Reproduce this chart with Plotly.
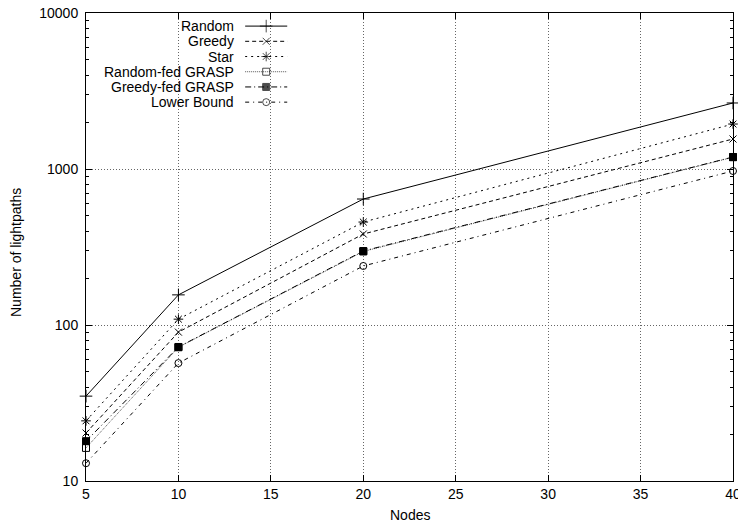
import plotly.graph_objects as go

nodes = [5, 10, 20, 40]
series_names = ["Random", "Greedy", "Star", "Random-fed GRASP", "Greedy-fed GRASP", "Lower Bound"]
random_vals = [35, 156, 642, 2650]
greedy_vals = [20.3, 90, 383, 1557]
star_vals = [24.3, 109, 457, 1942]
random_grasp_vals = [16.3, 72, 296, 1190]
greedy_grasp_vals = [18.0, 72.3, 298, 1194]
lower_bound_vals = [13.0, 57, 239, 971]
x_ticks = [5, 10, 15, 20, 25, 30, 35, 40]
y_ticks = [10, 100, 1000, 10000]
y_tick_labels = ["10", "100", "1000", "10000"]
y_minor_ticks = [m * d for d in (10, 100, 1000) for m in range(2, 10)]

values = [random_vals, greedy_vals, star_vals, random_grasp_vals, greedy_grasp_vals, lower_bound_vals]
symbols = ["cross-thin-open", "x-thin-open", "asterisk-open", "square-open", "square", "circle-open"]
sizes = [9, 7, 8, 7, 7, 7]
dashes = ["solid", "4px,3px", "2px,4px", "1px,1px", "6px,3px,1px,3px", "4px,4px,1px,4px"]
line_colors = ["black", "black", "black", "#555555", "black", "black"]

FONT = "Liberation Sans, Arial, sans-serif"
FS = 14
fig = go.Figure()

for name, vals, sym, sz, dash, lc in zip(series_names, values, symbols, sizes, dashes, line_colors):
    fig.add_trace(go.Scatter(
        x=nodes, y=vals, mode="lines+markers", name=name, showlegend=False,
        line=dict(color=lc, width=1, dash=dash),
        marker=dict(symbol=sym, size=sz, color="black", line=dict(color="black", width=1)),
        cliponaxis=False,
    ))

# custom gnuplot-style legend (text right-aligned, sample to the right)
leg_x0, leg_x1, leg_text_x = 0.246, 0.311, 0.232
leg_top, leg_step = 0.972, 0.0325
for i, (name, sym, sz, dash, lc) in enumerate(zip(series_names, symbols, sizes, dashes, line_colors)):
    yy = leg_top - i * leg_step
    fig.add_trace(go.Scatter(
        x=[leg_x0, (leg_x0 + leg_x1) / 2, leg_x1], y=[yy, yy, yy],
        xaxis="x2", yaxis="y2", mode="lines+markers", showlegend=False, hoverinfo="skip",
        line=dict(color=lc, width=1, dash=dash),
        marker=dict(symbol=sym, size=[0, sz, 0], color="black", line=dict(color="black", width=1)),
    ))
    fig.add_annotation(x=leg_text_x, y=yy, xref="x2", yref="y2", text=name, showarrow=False,
                       xanchor="right", yanchor="middle", font=dict(family=FONT, size=FS, color="black"))

# axis titles
fig.add_annotation(x=0.5, y=0, xref="paper", yref="paper", text="Nodes", showarrow=False,
                   xanchor="center", yanchor="top", yshift=-24, font=dict(family=FONT, size=FS, color="black"))
fig.add_annotation(x=0, y=0.5, xref="paper", yref="paper", text="Number of lightpaths", showarrow=False,
                   textangle=-90, xanchor="center", yanchor="middle", xshift=-70, yshift=-6,
                   font=dict(family=FONT, size=FS, color="black"))

axis_common = dict(
    showline=True, linecolor="black", linewidth=1, mirror="allticks",
    ticks="inside", ticklen=6, tickcolor="black", tickwidth=1,
    showgrid=True, gridcolor="#666666", griddash="1px,2px", gridwidth=1,
    zeroline=False, automargin=False, tickfont=dict(family=FONT, size=FS, color="black"),
)

fig.update_layout(
    width=738, height=524,
    margin=dict(l=86, r=5, t=13, b=43),
    paper_bgcolor="white", plot_bgcolor="white",
    font=dict(family=FONT, size=FS, color="black"),
    xaxis=dict(range=[5, 40], tickvals=x_ticks, ticklabeloverflow="allow", **axis_common),
    yaxis=dict(type="log", range=[1, 4], tickvals=y_ticks, ticktext=y_tick_labels,
               ticklabelstandoff=4,
               minor=dict(tickmode="array", tickvals=y_minor_ticks, ticks="inside", ticklen=3,
                          tickcolor="black", showgrid=False),
               **axis_common),
    xaxis2=dict(overlaying="x", range=[0, 1], visible=False),
    yaxis2=dict(overlaying="y", range=[0, 1], visible=False),
)

fig.write_html("out.html", config={"displayModeBar": False},
               post_script="document.body.style.margin='0';document.body.style.overflow='hidden';")
